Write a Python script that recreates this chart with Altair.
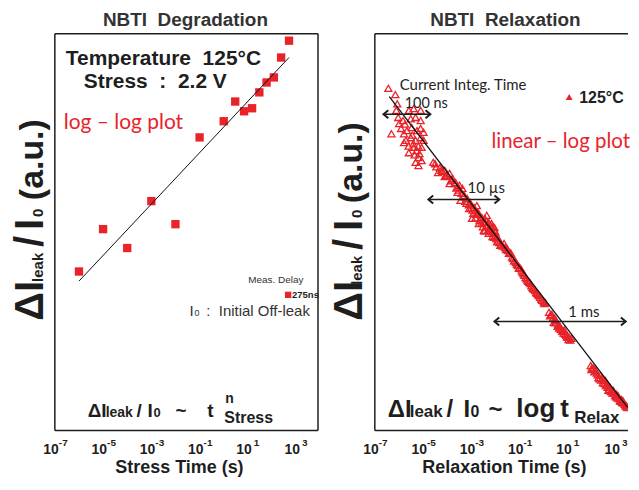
import altair as alt
import pandas as pd

RED = "#E8232A"
INK = "#1E1E1E"
GRID = "#A8A8A8"
SANS = "Liberation Sans"
HUMAN = "Lato"
NB = "\u00a0"

W1, W2, H = 264, 254, 398
K = 24.2  # pixels per decade on both time axes

# ---------------- NBTI degradation (stress) ----------------
stress_time = [1e-6, 1e-5, 1e-4, 1e-3, 1e-2, 0.1, 1, 3, 7, 15, 30, 60, 120, 240, 510]
stress_dI = [40, 107, 69, 205, 120, 900, 1310, 2070, 1650, 1770, 2560, 3220, 3620, 5750, 8500]
stress_fit_time = [1e-6, 510]
stress_fit_dI = [32, 5750]

# ---------------- NBTI relaxation (log10 of time, a.u.) ----------------
relax_log_t = [
    -6.44, -6.15, -6.07, -6.11, -6.03, -5.59, -5.39, -5.10, -5.31, -5.10, -5.99, -6.31,
    -5.91, -5.79, -5.67, -5.47, -5.10, -4.98, -5.71, -5.51, -5.31, -5.10, -5.39, -5.27,
    -5.59, -5.19, -5.31, -5.19, -5.06, -5.06, -4.98, -5.79, -5.83, -5.51, -5.75, -5.45,
    -5.25, -5.40, -5.20, -5.15, -5.60, -5.35,
    -4.58, -4.50, -4.38, -4.30, -4.20, -4.10, -4.10, -4.00, -3.90, -3.90, -3.80, -3.77,
    -3.70, -3.65, -3.57, -3.55, -3.49, -3.45, -3.40, -3.37, -3.29, -3.25, -3.17, -3.10,
    -3.09, -3.05, -2.97, -2.95, -2.89, -2.85, -2.80, -2.77, -2.69, -2.69, -2.62, -2.56,
    -2.48, -2.48, -2.44, -2.40, -2.36, -2.30, -2.28, -2.28, -2.20, -2.16, -2.12, -2.08,
    -2.04, -2.00, -1.96, -1.90, -1.84, -1.75, -1.64, -1.60, -1.52, -1.48, -1.40, -1.35,
    -1.27, -1.20, -1.15, -1.07, -1.00, -0.95, -0.87, -0.80, -0.75, -0.67, -0.60, -0.55,
    -0.47, -0.40, -0.35, -0.27, -0.20, -0.15, -0.06, 0.00, 0.06,
    -4.45, -4.25, -4.05, -3.85, -3.62, -3.52, -3.33, -3.20, -3.00, -2.92, -2.83, -2.74,
    -2.66, -2.58, -2.52, -2.45, -2.38, -2.33, -2.24, -2.22, -2.14, -2.10, -2.06, -2.02,
    -1.98, -1.93, -1.88, -1.80, -1.70, -1.56, -1.44, -1.31, -1.23, -1.11, -1.03, -0.91,
    -0.83, -0.71, -0.63, -0.51, -0.43, -0.31, -0.23, -0.10, 0.03,
    0.22, 0.30, 0.34, 0.42, 0.46, 0.50, 0.54, 0.60, 0.66, 0.70, 0.74, 0.80, 0.86, 0.90,
    0.94, 1.00, 1.06, 1.15,
    0.26, 0.38, 0.48, 0.58, 0.64, 0.77, 0.83, 0.97, 1.03, 1.10,
    1.95, 2.00, 2.07, 2.15, 2.20, 2.27, 2.35, 2.42, 2.48, 2.56, 2.62, 2.68, 2.68, 2.75,
    2.82, 2.88, 2.96, 3.02, 3.08, 3.16, 3.22, 3.28, 3.36, 3.42, 3.48,
    1.98, 2.10, 2.24, 2.31, 2.38, 2.45, 2.52, 2.58, 2.65, 2.72, 2.78, 2.85, 2.92, 3.00,
    3.05, 3.12, 3.19, 3.25, 3.32, 3.39, 3.45,
]
relax_dI = [
    7.76, 7.62, 7.41, 7.26, 7.10, 7.26, 7.30, 7.26, 7.10, 7.03, 6.96, 6.73,
    6.85, 6.73, 6.80, 6.87, 6.85, 6.76, 6.58, 6.64, 6.58, 6.64, 6.42, 6.35,
    6.30, 6.19, 6.08, 6.01, 6.12, 6.42, 6.58, 6.53, 7.03, 7.07, 6.95, 6.70,
    6.80, 6.50, 6.45, 6.28, 6.45, 6.25,
    6.08, 6.05, 5.85, 5.96, 5.88, 5.90, 5.76, 5.80, 5.83, 5.60, 5.68, 5.71,
    5.60, 5.62, 5.40, 5.52, 5.56, 5.22, 5.38, 5.49, 5.33, 5.20, 5.26, 5.12,
    5.03, 5.17, 4.81, 5.00, 5.06, 4.99, 4.90, 5.10, 4.92, 4.69, 4.80, 4.83,
    4.54, 4.72, 4.81, 4.62, 4.88, 4.55, 4.72, 4.47, 4.58, 4.69, 4.40, 4.47,
    4.60, 4.49, 4.35, 4.30, 4.26, 4.22, 4.24, 4.15, 4.12, 4.08, 4.04, 4.01,
    3.90, 3.86, 3.81, 3.74, 3.70, 3.67, 3.58, 3.52, 3.47, 3.40, 3.36, 3.33,
    3.24, 3.20, 3.17, 3.11, 3.06, 3.02, 2.95, 2.92, 2.90,
    5.98, 5.90, 5.78, 5.66, 5.50, 5.45, 5.30, 5.15, 5.05, 4.92, 4.82, 4.95,
    4.76, 4.70, 4.62, 4.52, 4.75, 4.64, 4.52, 4.65, 4.50, 4.62, 4.38, 4.52,
    4.42, 4.28, 4.35, 4.20, 4.18, 4.10, 4.02, 3.93, 3.84, 3.77, 3.68, 3.62,
    3.55, 3.44, 3.38, 3.28, 3.22, 3.13, 3.08, 2.98, 2.88,
    2.68, 2.62, 2.63, 2.45, 2.54, 2.50, 2.45, 2.40, 2.38, 2.30, 2.29, 2.27, 2.27, 2.18,
    2.15, 2.12, 2.11, 2.09,
    2.60, 2.55, 2.44, 2.36, 2.32, 2.24, 2.20, 2.12, 2.06, 2.05,
    1.47, 1.42, 1.41, 1.36, 1.30, 1.20, 1.25, 1.18, 1.13, 1.13, 1.05, 1.02, 0.91, 0.97,
    0.90, 0.91, 0.79, 0.82, 0.79, 0.68, 0.70, 0.68, 0.59, 0.56, 0.52,
    1.38, 1.33, 1.26, 1.17, 1.14, 1.08, 1.06, 1.02, 0.98, 0.93, 0.88, 0.85, 0.84, 0.76,
    0.74, 0.72, 0.66, 0.63, 0.62, 0.56, 0.53,
]
relax_fit_log_t = [-6.40, 3.48]
relax_fit_dI = [7.57, 0.52]

arrow_lo_log = [-6.64, -4.78, -2.04]
arrow_hi_log = [-4.70, -1.84, 3.40]
arrow_level = [7.17, 5.24, 2.47]

tick_exp = [-7, -5, -3, -1, 1, 3]
grid_levels = [1, 2, 3, 4, 5, 6, 7, 8]


def T(s, x, y, size, weight="bold", color=INK, font=SANS, align="left", angle=0):
    return alt.Chart(pd.DataFrame({"s": [s]})).mark_text(
        text=s, fontSize=size, fontWeight=weight, color=color, font=font,
        align=align, baseline="alphabetic", angle=angle,
    ).encode(x=alt.value(x), y=alt.value(y))


def ytitle(xb, s, big=40, mid=34, small=15):
    return [
        T("ΔI", xb, s[0], big, angle=270),
        T("leak", xb, s[1], small, angle=270),
        T("/", xb, s[2], big, angle=270),
        T("I", xb, s[3], big, angle=270),
        T("0", xb, s[4], small, angle=270),
        T("(a.u.)", xb, s[5], mid, angle=270),
    ]


def tick_labels():
    all_t = pd.DataFrame({"t": [10.0 ** e for e in tick_exp]})
    neg = pd.DataFrame({"t": [10.0 ** e for e in tick_exp if e < 0],
                        "e": [str(e) for e in tick_exp if e < 0]})
    pos = pd.DataFrame({"t": [10.0 ** e for e in tick_exp if e > 0],
                        "e": [str(e) for e in tick_exp if e > 0]})
    ten = alt.Chart(all_t).mark_text(
        text="10", align="right", dx=4, fontSize=14, fontWeight="bold", font=SANS, color=INK
    ).encode(x=alt.X("t:Q", axis=None), y=alt.value(H + 20))
    en = alt.Chart(neg).mark_text(
        align="left", dx=4, fontSize=10, fontWeight="bold", font=SANS, color=INK
    ).encode(x=alt.X("t:Q", axis=None), y=alt.value(H + 13), text="e:N")
    ep = alt.Chart(pos).mark_text(
        align="left", dx=6, fontSize=10, fontWeight="bold", font=SANS, color=INK
    ).encode(x=alt.X("t:Q", axis=None), y=alt.value(H + 13), text="e:N")
    return [ten, en, ep]


def anchor(x1, x2):
    return alt.Chart(pd.DataFrame({"a": [0]})).mark_rect(opacity=0).encode(
        x=alt.value(x1), x2=alt.value(x2), y=alt.value(-24), y2=alt.value(H + 46))


def rule(x1, x2, y1, y2):
    return alt.Chart(pd.DataFrame({"a": [0]})).mark_rule(color=INK, strokeWidth=1.5).encode(
        x=alt.value(x1), x2=alt.value(x2), y=alt.value(y1), y2=alt.value(y2))


xaxis = alt.Axis(values=[10.0 ** e for e in tick_exp], labels=False, ticks=True, tickSize=4,
                 tickColor=INK, tickWidth=1.2, domainColor=INK, domainWidth=1.5,
                 grid=False, title=None)

# ---------------- left panel ----------------
xs_left = alt.Scale(type="log", domain=[1e-7, 10 ** (W1 / K - 7)], nice=False)
ys_left = alt.Scale(type="log", domain=[1, 1e4], nice=False)

df_stress = pd.DataFrame({"t": stress_time, "dI": stress_dI})
df_sfit = pd.DataFrame({"t": stress_fit_time, "dI": stress_fit_dI})

squares = alt.Chart(df_stress).mark_square(size=70, color=RED, opacity=1).encode(
    x=alt.X("t:Q", scale=xs_left, axis=xaxis),
    y=alt.Y("dI:Q", scale=ys_left,
            axis=alt.Axis(labels=False, ticks=False, grid=False, domainColor=INK,
                          domainWidth=1.5, title=None)),
)
sfit = alt.Chart(df_sfit).mark_line(color="#111111", strokeWidth=1).encode(
    x=alt.X("t:Q", axis=None), y=alt.Y("dI:Q", axis=None))

legend_sq = alt.Chart(pd.DataFrame({"a": [0]})).mark_square(size=40, color=RED, opacity=1).encode(
    x=alt.value(234), y=alt.value(262))

left_layers = [squares, sfit, anchor(-46, W1 + 9),
               rule(0, W1, 0, 0), rule(W1, W1, 0, H), rule(0, 0, 0, H), rule(0, W1, H, H),
               legend_sq,
               T("NBTI" + NB + NB + "Degradation", 131, -8, 19, color="#333333", align="center"),
               T("Temperature" + NB + NB + "125°C", 11, 31, 21),
               T("Stress" + NB + NB + ":" + NB + NB + "2.2" + NB + "V", 29, 55, 21),
               T("log – log plot", 9, 96, 21, weight="normal", color=RED, font=HUMAN),
               T("Meas. Delay", 194, 250, 10, weight="normal", color="#333333"),
               T("275ns", 238, 265, 9.5),
               T("I", 135, 283, 15, weight="normal", color="#333333"),
               T("0", 140, 283, 9, weight="normal", color="#333333"),
               T(":" + NB + NB + "Initial Off-leak", 152, 283, 15, weight="normal", color="#333333"),
               T("ΔI", 33, 385, 19), T("leak", 51, 385, 14), T("/", 82, 385, 19),
               T("I", 93, 385, 19), T("0", 99, 385, 13), T("~", 121, 385, 19),
               T("t", 153, 385, 19), T("n", 171, 371, 14), T("Stress", 170, 391, 16),
               T("Stress Time (s)", 125, 441, 18, align="center"),
               ] + ytitle(-12, [288, 249, 214, 197, 184, 167]) + tick_labels()

left = alt.layer(*left_layers).properties(
    width=W1, height=H, view=alt.ViewBackground(stroke="transparent"))

# ---------------- right panel ----------------
xs_right = alt.Scale(type="log", domain=[1e-7, 10 ** (W2 / K - 7)], nice=False)
ys_right = alt.Scale(domain=[0, 9], nice=False)

df_relax = pd.DataFrame({"t": [10 ** v for v in relax_log_t], "dI": relax_dI})
df_rfit = pd.DataFrame({"t": [10 ** v for v in relax_fit_log_t], "dI": relax_fit_dI})
df_arr = pd.DataFrame({"lo": [10 ** v for v in arrow_lo_log],
                       "hi": [10 ** v for v in arrow_hi_log], "y": arrow_level})

tri = alt.Chart(df_relax).mark_point(shape="triangle-up", filled=False, color=RED, size=50,
                                     strokeWidth=1.3, opacity=1, clip=True).encode(
    x=alt.X("t:Q", scale=xs_right, axis=xaxis),
    y=alt.Y("dI:Q", scale=ys_right,
            axis=alt.Axis(values=grid_levels, labels=False, ticks=False, grid=True,
                          gridColor=GRID, gridWidth=1.5, domainColor=INK, domainWidth=1.5,
                          title=None)),
)
rfit = alt.Chart(df_rfit).mark_line(color="#111111", strokeWidth=1.3, clip=True).encode(
    x=alt.X("t:Q", axis=None), y=alt.Y("dI:Q", axis=None))
arr_line = alt.Chart(df_arr).mark_rule(color=INK, strokeWidth=1.5).encode(
    x=alt.X("lo:Q", axis=None), x2="hi:Q", y=alt.Y("y:Q", axis=None))
arr_l = alt.Chart(df_arr).mark_point(shape="M1.2,-1L0,0L1.2,1", size=64, filled=False,
                                     strokeWidth=2, color=INK, opacity=1).encode(
    x=alt.X("lo:Q", axis=None), y=alt.Y("y:Q", axis=None))
arr_r = alt.Chart(df_arr).mark_point(shape="M-1.2,-1L0,0L-1.2,1", size=64, filled=False,
                                     strokeWidth=2, color=INK, opacity=1).encode(
    x=alt.X("hi:Q", axis=None), y=alt.Y("y:Q", axis=None))
legend_tri = alt.Chart(pd.DataFrame({"a": [0]})).mark_point(
    shape="triangle-up", filled=False, size=12, color=RED, opacity=1).encode(
    x=alt.value(195), y=alt.value(64))

right_layers = [tri, rfit, arr_line, arr_l, arr_r, anchor(-46, W2),
                rule(0, W2, 0, 0), rule(0, 0, 0, H), rule(0, W2, H, H),
                legend_tri,
                T("NBTI" + NB + NB + "Relaxation", 131, -8, 19, color="#333333", align="center"),
                T("Current Integ. Time", 25, 57, 15, weight="normal", font=HUMAN),
                T("100 ns", 30, 75, 14.5, weight="normal", font=HUMAN),
                T("10 µs", 93, 160, 15, weight="normal", font=HUMAN),
                T("1 ms", 194, 284, 15, weight="normal", font=HUMAN),
                T("125°C", 205, 70, 16),
                T("linear – log plot", 117, 115, 20.5, weight="normal", color=RED, font=HUMAN),
                T("ΔI", 13, 385, 24), T("leak", 35, 385, 17), T("/", 72, 385, 24),
                T("I", 89, 385, 24), T("0", 96, 385, 16), T("~", 114, 385, 24),
                T("log", 142, 385, 26), T("t", 186, 385, 26), T("Relax", 200, 391, 17),
                T("Relaxation Time (s)", 130, 441, 18, align="center"),
                ] + ytitle(-13, [288, 252, 217, 198, 185, 170]) + tick_labels()

right = alt.layer(*right_layers).properties(
    width=W2, height=H, view=alt.ViewBackground(stroke="transparent"))

chart = alt.hconcat(left, right, spacing=0).properties(
    padding={"left": 0, "top": 0, "right": 0, "bottom": 0}
).configure_view(stroke="transparent")

chart.save("out.html", embed_options={"renderer": "svg", "actions": False})
